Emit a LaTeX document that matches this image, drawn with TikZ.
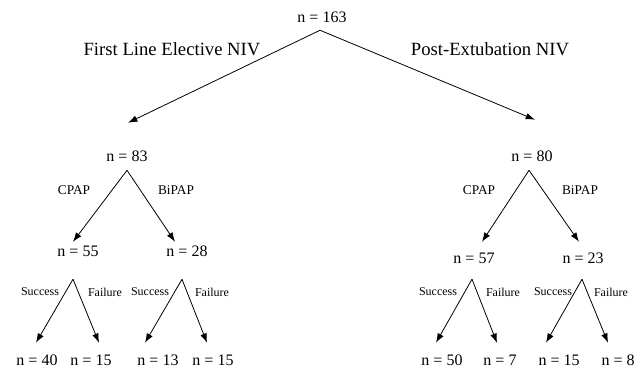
\documentclass[tikz,border=0pt]{standalone}
\usepackage{fontspec}
\setmainfont{Liberation Serif}
\usepackage{tikz}
\usetikzlibrary{arrows.meta}
\usetikzlibrary{positioning}

\begin{document}
\begin{tikzpicture}[x=0.75pt, y=-0.75pt,
	count/.style={inner sep=0pt, font=\fontsize{12}{14}\selectfont},
	route/.style={inner sep=0pt, font=\fontsize{14}{16}\selectfont},
	mode/.style={inner sep=0pt, font=\fontsize{10}{12}\selectfont},
	outcome/.style={inner sep=0pt, font=\fontsize{9}{11}\selectfont},
	arr/.style={-{Latex[length=7pt, width=5pt]}, line width=0.6pt}]
				\useasboundingbox (0,0) rectangle (641,369);
				% counts
				\node[count] (n163) at (322, 17) {n = 163};
				\node[count] (n83) at (127, 156) {n = 83};
				\node[count] (n80) at (532, 156) {n = 80};
				\node[count] (n55) at (78, 251) {n = 55};
				\node[count] (n28) at (187, 251) {n = 28};
				\node[count] (n57) at (474, 258) {n = 57};
				\node[count] (n23) at (583, 258) {n = 23};
				\node[count] (n40) at (37, 360) {n = 40};
				\node[count] (n15a) at (91, 360) {n = 15};
				\node[count] (n13) at (158, 360) {n = 13};
				\node[count] (n15b) at (213, 360) {n = 15};
				\node[count] (n50) at (442, 360) {n = 50};
				\node[count] (n7) at (500, 360) {n = 7};
				\node[count] (n15c) at (559, 360) {n = 15};
				\node[count] (n8) at (618, 360) {n = 8};
				% branch labels
				\node[route] (first) at (172, 49) {First Line Elective NIV};
				\node[route] (post) at (490, 49) {Post-Extubation NIV};
				\node[mode] (cpapL) at (74, 190) {CPAP};
				\node[mode] (bipapL) at (176, 190) {BiPAP};
				\node[mode] (cpapR) at (479, 190) {CPAP};
				\node[mode] (bipapR) at (580, 190) {BiPAP};
				\node[outcome] (sucA) at (40, 292) {Success};
				\node[outcome] (failA) at (105, 292) {Failure};
				\node[outcome] (sucB) at (150, 292) {Success};
				\node[outcome] (failB) at (212, 292) {Failure};
				\node[outcome] (sucC) at (438, 292) {Success};
				\node[outcome] (failC) at (503, 292) {Failure};
				\node[outcome] (sucD) at (553, 292) {Success};
				\node[outcome] (failD) at (611, 292) {Failure};
				% arrows
				\draw[arr] ([shift={(-2,7.6)}]n163.south) -- ([shift={(1,-27.6)}]n83.north);
				\draw[arr] ([shift={(-2,7.6)}]n163.south) -- ([shift={(3,-30.6)}]n80.north);
				\draw[arr] ([shift={(0,8.6)}]n83.south) -- ([shift={(-5,-3.6)}]n55.north);
				\draw[arr] ([shift={(0,8.6)}]n83.south) -- ([shift={(-12,-3.6)}]n28.north);
				\draw[arr] ([shift={(-3,8.6)}]n80.south) -- ([shift={(8,-10.6)}]n57.north);
				\draw[arr] ([shift={(-3,8.6)}]n80.south) -- ([shift={(-4,-10.6)}]n23.north);
				\draw[arr] ([shift={(-5,22.6)}]n55.south) -- ([shift={(-1,-11.6)}]n40.north);
				\draw[arr] ([shift={(-5,22.6)}]n55.south) -- ([shift={(8,-11.6)}]n15a.north);
				\draw[arr] ([shift={(-5,22.6)}]n28.south) -- ([shift={(-13,-11.6)}]n13.north);
				\draw[arr] ([shift={(-5,22.6)}]n28.south) -- ([shift={(-6,-11.6)}]n15b.north);
				\draw[arr] ([shift={(-2,15.6)}]n57.south) -- ([shift={(-6,-11.6)}]n50.north);
				\draw[arr] ([shift={(-2,15.6)}]n57.south) -- ([shift={(-3,-11.6)}]n7.north);
				\draw[arr] ([shift={(-1,15.6)}]n23.south) -- ([shift={(-13,-11.6)}]n15c.north);
				\draw[arr] ([shift={(-1,15.6)}]n23.south) -- ([shift={(-10,-11.6)}]n8.north);
			\end{tikzpicture}
\end{document}
